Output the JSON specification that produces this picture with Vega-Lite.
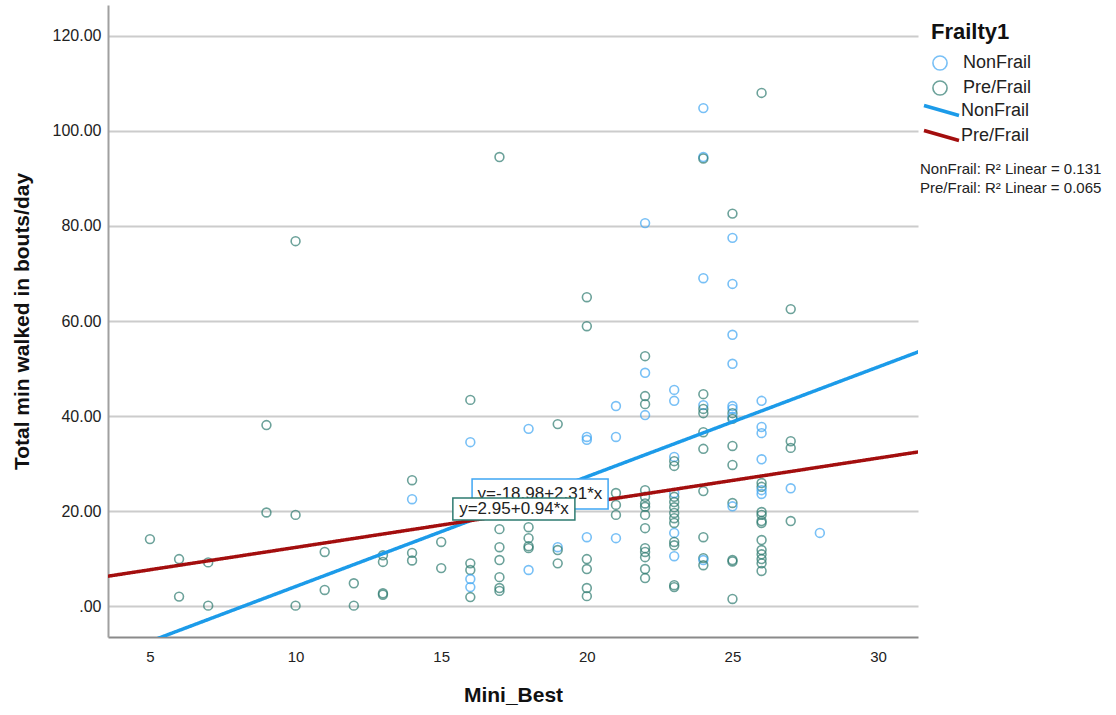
{
  "$schema": "https://vega.github.io/schema/vega-lite/v6.json",
  "width": 810,
  "height": 632,
  "autosize": {"type": "none"},
  "padding": {"left": 108, "top": 5, "right": 198, "bottom": 78},
  "background": "white",
  "config": {
    "font": "Liberation Sans",
    "view": {"stroke": null},
    "axis": {"labelColor": "#222222", "titleColor": "#111111", "labelFont": "Liberation Sans", "titleFont": "Liberation Sans"},
    "legend": {"labelFont": "Liberation Sans", "titleFont": "Liberation Sans", "labelColor": "#222222", "titleColor": "#111111", "labelLimit": 400}
  },
  "datasets": {
    "points": [
      {"mini_best": 5, "total_min": 14.1, "frailty": "Pre/Frail"},
      {"mini_best": 6, "total_min": 9.9, "frailty": "Pre/Frail"},
      {"mini_best": 6, "total_min": 2.0, "frailty": "Pre/Frail"},
      {"mini_best": 7, "total_min": 9.2, "frailty": "Pre/Frail"},
      {"mini_best": 7, "total_min": 0.1, "frailty": "Pre/Frail"},
      {"mini_best": 9, "total_min": 38.1, "frailty": "Pre/Frail"},
      {"mini_best": 9, "total_min": 19.7, "frailty": "Pre/Frail"},
      {"mini_best": 10, "total_min": 76.8, "frailty": "Pre/Frail"},
      {"mini_best": 10, "total_min": 19.2, "frailty": "Pre/Frail"},
      {"mini_best": 10, "total_min": 0.1, "frailty": "Pre/Frail"},
      {"mini_best": 11, "total_min": 11.4, "frailty": "Pre/Frail"},
      {"mini_best": 11, "total_min": 3.4, "frailty": "Pre/Frail"},
      {"mini_best": 12, "total_min": 4.8, "frailty": "Pre/Frail"},
      {"mini_best": 12, "total_min": 0.1, "frailty": "Pre/Frail"},
      {"mini_best": 13, "total_min": 10.7, "frailty": "Pre/Frail"},
      {"mini_best": 13, "total_min": 9.3, "frailty": "Pre/Frail"},
      {"mini_best": 13, "total_min": 2.7, "frailty": "Pre/Frail"},
      {"mini_best": 13, "total_min": 2.4, "frailty": "Pre/Frail"},
      {"mini_best": 14, "total_min": 26.5, "frailty": "Pre/Frail"},
      {"mini_best": 14, "total_min": 22.5, "frailty": "NonFrail"},
      {"mini_best": 14, "total_min": 11.2, "frailty": "Pre/Frail"},
      {"mini_best": 14, "total_min": 9.6, "frailty": "Pre/Frail"},
      {"mini_best": 15, "total_min": 13.5, "frailty": "Pre/Frail"},
      {"mini_best": 15, "total_min": 8.0, "frailty": "Pre/Frail"},
      {"mini_best": 16, "total_min": 43.4, "frailty": "Pre/Frail"},
      {"mini_best": 16, "total_min": 34.5, "frailty": "NonFrail"},
      {"mini_best": 16, "total_min": 9.0, "frailty": "Pre/Frail"},
      {"mini_best": 16, "total_min": 7.6, "frailty": "Pre/Frail"},
      {"mini_best": 16, "total_min": 5.7, "frailty": "NonFrail"},
      {"mini_best": 16, "total_min": 4.0, "frailty": "NonFrail"},
      {"mini_best": 16, "total_min": 1.9, "frailty": "Pre/Frail"},
      {"mini_best": 17, "total_min": 94.5, "frailty": "Pre/Frail"},
      {"mini_best": 17, "total_min": 16.2, "frailty": "Pre/Frail"},
      {"mini_best": 17, "total_min": 12.4, "frailty": "Pre/Frail"},
      {"mini_best": 17, "total_min": 9.7, "frailty": "Pre/Frail"},
      {"mini_best": 17, "total_min": 6.1, "frailty": "Pre/Frail"},
      {"mini_best": 17, "total_min": 3.8, "frailty": "Pre/Frail"},
      {"mini_best": 17, "total_min": 3.2, "frailty": "Pre/Frail"},
      {"mini_best": 18, "total_min": 37.3, "frailty": "NonFrail"},
      {"mini_best": 18, "total_min": 16.6, "frailty": "Pre/Frail"},
      {"mini_best": 18, "total_min": 14.3, "frailty": "Pre/Frail"},
      {"mini_best": 18, "total_min": 12.6, "frailty": "Pre/Frail"},
      {"mini_best": 18, "total_min": 12.2, "frailty": "Pre/Frail"},
      {"mini_best": 18, "total_min": 7.6, "frailty": "NonFrail"},
      {"mini_best": 19, "total_min": 38.3, "frailty": "Pre/Frail"},
      {"mini_best": 19, "total_min": 12.4, "frailty": "NonFrail"},
      {"mini_best": 19, "total_min": 11.8, "frailty": "Pre/Frail"},
      {"mini_best": 19, "total_min": 9.0, "frailty": "Pre/Frail"},
      {"mini_best": 20, "total_min": 65.0, "frailty": "Pre/Frail"},
      {"mini_best": 20, "total_min": 58.9, "frailty": "Pre/Frail"},
      {"mini_best": 20, "total_min": 35.6, "frailty": "NonFrail"},
      {"mini_best": 20, "total_min": 35.0, "frailty": "NonFrail"},
      {"mini_best": 20, "total_min": 14.5, "frailty": "NonFrail"},
      {"mini_best": 20, "total_min": 9.9, "frailty": "Pre/Frail"},
      {"mini_best": 20, "total_min": 7.8, "frailty": "Pre/Frail"},
      {"mini_best": 20, "total_min": 3.8, "frailty": "Pre/Frail"},
      {"mini_best": 20, "total_min": 2.1, "frailty": "Pre/Frail"},
      {"mini_best": 21, "total_min": 42.1, "frailty": "NonFrail"},
      {"mini_best": 21, "total_min": 35.6, "frailty": "NonFrail"},
      {"mini_best": 21, "total_min": 23.8, "frailty": "Pre/Frail"},
      {"mini_best": 21, "total_min": 21.3, "frailty": "Pre/Frail"},
      {"mini_best": 21, "total_min": 19.2, "frailty": "Pre/Frail"},
      {"mini_best": 21, "total_min": 14.3, "frailty": "NonFrail"},
      {"mini_best": 22, "total_min": 80.6, "frailty": "NonFrail"},
      {"mini_best": 22, "total_min": 52.6, "frailty": "Pre/Frail"},
      {"mini_best": 22, "total_min": 49.1, "frailty": "NonFrail"},
      {"mini_best": 22, "total_min": 44.2, "frailty": "Pre/Frail"},
      {"mini_best": 22, "total_min": 42.5, "frailty": "Pre/Frail"},
      {"mini_best": 22, "total_min": 40.2, "frailty": "NonFrail"},
      {"mini_best": 22, "total_min": 24.4, "frailty": "Pre/Frail"},
      {"mini_best": 22, "total_min": 23.0, "frailty": "Pre/Frail"},
      {"mini_best": 22, "total_min": 21.6, "frailty": "Pre/Frail"},
      {"mini_best": 22, "total_min": 20.9, "frailty": "Pre/Frail"},
      {"mini_best": 22, "total_min": 19.2, "frailty": "Pre/Frail"},
      {"mini_best": 22, "total_min": 16.4, "frailty": "Pre/Frail"},
      {"mini_best": 22, "total_min": 12.2, "frailty": "Pre/Frail"},
      {"mini_best": 22, "total_min": 11.4, "frailty": "Pre/Frail"},
      {"mini_best": 22, "total_min": 10.3, "frailty": "Pre/Frail"},
      {"mini_best": 22, "total_min": 7.8, "frailty": "Pre/Frail"},
      {"mini_best": 22, "total_min": 5.9, "frailty": "Pre/Frail"},
      {"mini_best": 23, "total_min": 45.5, "frailty": "NonFrail"},
      {"mini_best": 23, "total_min": 43.2, "frailty": "NonFrail"},
      {"mini_best": 23, "total_min": 31.4, "frailty": "NonFrail"},
      {"mini_best": 23, "total_min": 30.5, "frailty": "Pre/Frail"},
      {"mini_best": 23, "total_min": 29.5, "frailty": "Pre/Frail"},
      {"mini_best": 23, "total_min": 23.8, "frailty": "NonFrail"},
      {"mini_best": 23, "total_min": 23.0, "frailty": "Pre/Frail"},
      {"mini_best": 23, "total_min": 21.9, "frailty": "Pre/Frail"},
      {"mini_best": 23, "total_min": 20.8, "frailty": "Pre/Frail"},
      {"mini_best": 23, "total_min": 19.6, "frailty": "Pre/Frail"},
      {"mini_best": 23, "total_min": 18.5, "frailty": "Pre/Frail"},
      {"mini_best": 23, "total_min": 17.5, "frailty": "Pre/Frail"},
      {"mini_best": 23, "total_min": 15.4, "frailty": "NonFrail"},
      {"mini_best": 23, "total_min": 13.5, "frailty": "Pre/Frail"},
      {"mini_best": 23, "total_min": 12.8, "frailty": "Pre/Frail"},
      {"mini_best": 23, "total_min": 10.5, "frailty": "NonFrail"},
      {"mini_best": 23, "total_min": 4.4, "frailty": "Pre/Frail"},
      {"mini_best": 23, "total_min": 4.0, "frailty": "Pre/Frail"},
      {"mini_best": 24, "total_min": 104.8, "frailty": "NonFrail"},
      {"mini_best": 24, "total_min": 94.5, "frailty": "NonFrail"},
      {"mini_best": 24, "total_min": 94.2, "frailty": "Pre/Frail"},
      {"mini_best": 24, "total_min": 69.0, "frailty": "NonFrail"},
      {"mini_best": 24, "total_min": 44.6, "frailty": "Pre/Frail"},
      {"mini_best": 24, "total_min": 42.3, "frailty": "NonFrail"},
      {"mini_best": 24, "total_min": 41.5, "frailty": "Pre/Frail"},
      {"mini_best": 24, "total_min": 40.6, "frailty": "Pre/Frail"},
      {"mini_best": 24, "total_min": 36.6, "frailty": "Pre/Frail"},
      {"mini_best": 24, "total_min": 33.1, "frailty": "Pre/Frail"},
      {"mini_best": 24, "total_min": 24.2, "frailty": "Pre/Frail"},
      {"mini_best": 24, "total_min": 14.5, "frailty": "Pre/Frail"},
      {"mini_best": 24, "total_min": 10.1, "frailty": "Pre/Frail"},
      {"mini_best": 24, "total_min": 9.7, "frailty": "NonFrail"},
      {"mini_best": 24, "total_min": 8.6, "frailty": "Pre/Frail"},
      {"mini_best": 25, "total_min": 82.6, "frailty": "Pre/Frail"},
      {"mini_best": 25, "total_min": 77.5, "frailty": "NonFrail"},
      {"mini_best": 25, "total_min": 67.8, "frailty": "NonFrail"},
      {"mini_best": 25, "total_min": 57.1, "frailty": "NonFrail"},
      {"mini_best": 25, "total_min": 51.0, "frailty": "NonFrail"},
      {"mini_best": 25, "total_min": 42.1, "frailty": "NonFrail"},
      {"mini_best": 25, "total_min": 41.5, "frailty": "NonFrail"},
      {"mini_best": 25, "total_min": 40.6, "frailty": "Pre/Frail"},
      {"mini_best": 25, "total_min": 39.8, "frailty": "NonFrail"},
      {"mini_best": 25, "total_min": 39.4, "frailty": "Pre/Frail"},
      {"mini_best": 25, "total_min": 33.7, "frailty": "Pre/Frail"},
      {"mini_best": 25, "total_min": 29.7, "frailty": "Pre/Frail"},
      {"mini_best": 25, "total_min": 21.7, "frailty": "Pre/Frail"},
      {"mini_best": 25, "total_min": 21.0, "frailty": "NonFrail"},
      {"mini_best": 25, "total_min": 9.7, "frailty": "Pre/Frail"},
      {"mini_best": 25, "total_min": 9.4, "frailty": "Pre/Frail"},
      {"mini_best": 25, "total_min": 1.5, "frailty": "Pre/Frail"},
      {"mini_best": 26, "total_min": 108.0, "frailty": "Pre/Frail"},
      {"mini_best": 26, "total_min": 43.2, "frailty": "NonFrail"},
      {"mini_best": 26, "total_min": 37.7, "frailty": "NonFrail"},
      {"mini_best": 26, "total_min": 36.4, "frailty": "NonFrail"},
      {"mini_best": 26, "total_min": 30.9, "frailty": "NonFrail"},
      {"mini_best": 26, "total_min": 25.9, "frailty": "Pre/Frail"},
      {"mini_best": 26, "total_min": 25.1, "frailty": "Pre/Frail"},
      {"mini_best": 26, "total_min": 24.4, "frailty": "NonFrail"},
      {"mini_best": 26, "total_min": 23.6, "frailty": "NonFrail"},
      {"mini_best": 26, "total_min": 19.8, "frailty": "Pre/Frail"},
      {"mini_best": 26, "total_min": 19.2, "frailty": "Pre/Frail"},
      {"mini_best": 26, "total_min": 17.9, "frailty": "Pre/Frail"},
      {"mini_best": 26, "total_min": 17.5, "frailty": "Pre/Frail"},
      {"mini_best": 26, "total_min": 13.9, "frailty": "Pre/Frail"},
      {"mini_best": 26, "total_min": 11.8, "frailty": "Pre/Frail"},
      {"mini_best": 26, "total_min": 10.9, "frailty": "Pre/Frail"},
      {"mini_best": 26, "total_min": 9.9, "frailty": "Pre/Frail"},
      {"mini_best": 26, "total_min": 9.0, "frailty": "Pre/Frail"},
      {"mini_best": 26, "total_min": 7.4, "frailty": "Pre/Frail"},
      {"mini_best": 27, "total_min": 62.5, "frailty": "Pre/Frail"},
      {"mini_best": 27, "total_min": 34.7, "frailty": "Pre/Frail"},
      {"mini_best": 27, "total_min": 33.3, "frailty": "Pre/Frail"},
      {"mini_best": 27, "total_min": 24.8, "frailty": "NonFrail"},
      {"mini_best": 27, "total_min": 17.9, "frailty": "Pre/Frail"},
      {"mini_best": 28, "total_min": 15.4, "frailty": "NonFrail"}
    ],
    "fits": [
      {"fit_group": "NonFrail (fit)", "note": "NonFrail: R² Linear = 0.131", "mini_best": 3, "total_min": -12.05},
      {"fit_group": "NonFrail (fit)", "note": "NonFrail: R² Linear = 0.131", "mini_best": 32, "total_min": 54.94},
      {"fit_group": "Pre/Frail (fit)", "note": "Pre/Frail: R² Linear = 0.065", "mini_best": 3, "total_min": 5.77},
      {"fit_group": "Pre/Frail (fit)", "note": "Pre/Frail: R² Linear = 0.065", "mini_best": 32, "total_min": 33.03}
    ],
    "equations": [
      {"frailty": "NonFrail", "equation": "y=-18.98+2.31*x", "mini_best": 18.39, "total_min": 23.58, "x_lo": 16.06, "x_hi": 20.73, "y_lo": 20.42, "y_hi": 26.74},
      {"frailty": "Pre/Frail", "equation": "y=2.95+0.94*x", "mini_best": 17.5, "total_min": 20.42, "x_lo": 15.4, "x_hi": 19.59, "y_lo": 18.11, "y_hi": 22.74}
    ]
  },
  "layer": [
    {
      "data": {"name": "points"},
      "mark": {"type": "point", "shape": "circle", "filled": false, "size": 78, "strokeWidth": 1.6},
      "encoding": {
        "x": {"field": "mini_best", "type": "quantitative", "title": "Mini_Best",
          "scale": {"domain": [3.56, 31.37], "nice": false, "zero": false},
          "axis": {"values": [5, 10, 15, 20, 25, 30], "grid": false, "ticks": false, "domainColor": "#8a8a8a", "domainWidth": 2, "labelFontSize": 15, "labelPadding": 12, "titleFontSize": 21, "titleFontWeight": "bold", "titlePadding": 20}},
        "y": {"field": "total_min", "type": "quantitative", "title": "Total min walked in bouts/day",
          "scale": {"domain": [-6.5, 126.5], "nice": false, "zero": false},
          "axis": {"values": [0, 20, 40, 60, 80, 100, 120], "labelExpr": "datum.value === 0 ? '.00' : format(datum.value, '.2f')", "grid": true, "gridColor": "#cccccc", "gridWidth": 2, "ticks": false, "domainColor": "#a0a0a0", "domainWidth": 2, "labelFontSize": 16, "labelPadding": 7, "titleFontSize": 21, "titleFontWeight": "bold", "titlePadding": 20}},
        "color": {"field": "frailty", "type": "nominal",
          "scale": {"domain": ["NonFrail", "Pre/Frail"], "range": ["#3fa6f3", "#2e7b70"]},
          "legend": {"title": "Frailty1", "orient": "none", "legendX": 823, "legendY": 17, "titleFontSize": 22, "titleFontWeight": "bold", "titlePadding": 10, "labelFontSize": 18, "symbolType": "circle", "symbolSize": 200, "symbolStrokeWidth": 1.6, "symbolFillColor": "transparent", "rowPadding": 3, "labelOffset": 14}}
      }
    },
    {
      "data": {"name": "fits"},
      "mark": {"type": "line", "strokeWidth": 3.5, "clip": true},
      "encoding": {
        "x": {"field": "mini_best", "type": "quantitative", "title": "Mini_Best"},
        "y": {"field": "total_min", "type": "quantitative", "title": "Total min walked in bouts/day"},
        "stroke": {"field": "fit_group", "type": "nominal",
          "scale": {"domain": ["NonFrail (fit)", "Pre/Frail (fit)"], "range": ["#1c9be9", "#a30e0e"]},
          "legend": {"title": null, "orient": "none", "legendX": 823, "legendY": 95, "labelFontSize": 18, "labelExpr": "replace(datum.label, ' (fit)', '')", "symbolType": "M-2,-0.572L2,0.572", "symbolSize": 306, "symbolStrokeWidth": 3.5, "rowPadding": 0, "labelOffset": 9}},
        "strokeDash": {"field": "note", "type": "nominal",
          "scale": {"range": [[1, 0], [1, 0]]},
          "legend": {"title": null, "orient": "none", "legendX": 797, "legendY": 156, "labelFontSize": 15, "symbolOpacity": 0, "symbolSize": 0, "labelOffset": 0, "rowPadding": 3}}
      }
    },
    {
      "data": {"name": "equations"},
      "transform": [{"filter": "datum.frailty === 'NonFrail'"}],
      "mark": {"type": "rect", "fill": "white", "stroke": "#3fa6f3", "strokeWidth": 1.5},
      "encoding": {
        "x": {"field": "x_lo", "type": "quantitative", "title": "Mini_Best"},
        "x2": {"field": "x_hi"},
        "y": {"field": "y_lo", "type": "quantitative", "title": "Total min walked in bouts/day"},
        "y2": {"field": "y_hi"}
      }
    },
    {
      "data": {"name": "equations"},
      "transform": [{"filter": "datum.frailty === 'NonFrail'"}],
      "mark": {"type": "text", "fontSize": 17, "color": "#222222", "align": "center", "baseline": "middle"},
      "encoding": {
        "x": {"field": "mini_best", "type": "quantitative", "title": "Mini_Best"},
        "y": {"field": "total_min", "type": "quantitative", "title": "Total min walked in bouts/day"},
        "text": {"field": "equation"}
      }
    },
    {
      "data": {"name": "equations"},
      "transform": [{"filter": "datum.frailty === 'Pre/Frail'"}],
      "mark": {"type": "rect", "fill": "white", "stroke": "#2e7b70", "strokeWidth": 1.5},
      "encoding": {
        "x": {"field": "x_lo", "type": "quantitative", "title": "Mini_Best"},
        "x2": {"field": "x_hi"},
        "y": {"field": "y_lo", "type": "quantitative", "title": "Total min walked in bouts/day"},
        "y2": {"field": "y_hi"}
      }
    },
    {
      "data": {"name": "equations"},
      "transform": [{"filter": "datum.frailty === 'Pre/Frail'"}],
      "mark": {"type": "text", "fontSize": 17, "color": "#222222", "align": "center", "baseline": "middle"},
      "encoding": {
        "x": {"field": "mini_best", "type": "quantitative", "title": "Mini_Best"},
        "y": {"field": "total_min", "type": "quantitative", "title": "Total min walked in bouts/day"},
        "text": {"field": "equation"}
      }
    }
  ]
}
